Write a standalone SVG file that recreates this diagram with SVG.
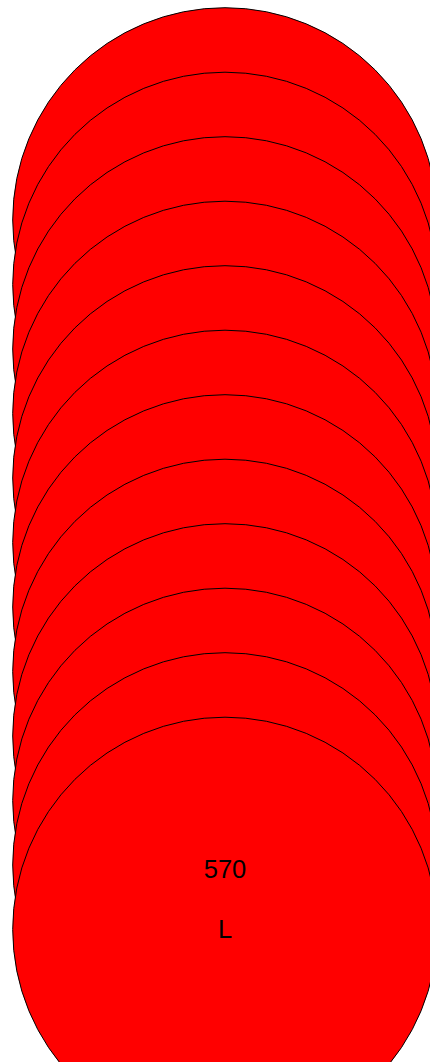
<svg xmlns="http://www.w3.org/2000/svg" width="430" height="1062" viewBox="0 0 430 1062">
<style>
.c{fill:#ff0000;stroke:#000;stroke-width:1}
.t{font-family:"Liberation Sans",Arial,sans-serif;font-size:25.5px;fill:#000;text-anchor:middle}
</style>
<rect width="430" height="1062" fill="#fff"/>
<g id="connectors"/>
<g id="n1"><circle class="c" cx="225" cy="220" r="212.3"/></g>
<g id="n2"><circle class="c" cx="225" cy="284.5" r="212.3"/></g>
<g id="n3"><circle class="c" cx="225" cy="349" r="212.3"/></g>
<g id="n4"><circle class="c" cx="225" cy="413.5" r="212.3"/></g>
<g id="n5"><circle class="c" cx="225" cy="478" r="212.3"/></g>
<g id="n6"><circle class="c" cx="225" cy="542.5" r="212.3"/></g>
<g id="n7"><circle class="c" cx="225" cy="607" r="212.3"/></g>
<g id="n8"><circle class="c" cx="225" cy="671.5" r="212.3"/></g>
<g id="n9"><circle class="c" cx="225" cy="736" r="212.3"/></g>
<g id="n10"><circle class="c" cx="225" cy="800.5" r="212.3"/></g>
<g id="n11"><circle class="c" cx="225" cy="865" r="212.3"/></g>
<g id="n12"><circle class="c" cx="225" cy="929.5" r="212.3"/>
<text class="t" x="225" y="877.7">570</text>
<text class="t" x="225" y="937.5">L</text></g>
</svg>
